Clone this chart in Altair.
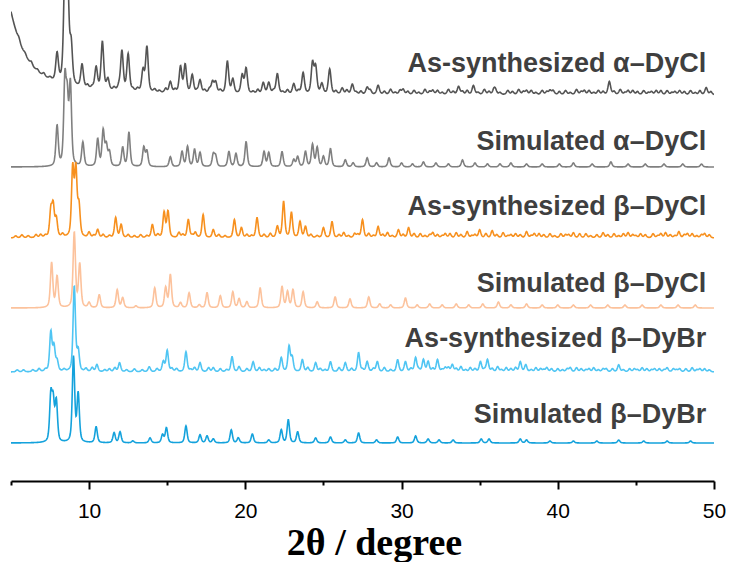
import numpy as np
import pandas as pd
import altair as alt

# ---- pattern names, colours and vertical stacking -------------------------
names = [
    "As-synthesized α–DyCl",
    "Simulated α–DyCl",
    "As-synthesized β–DyCl",
    "Simulated β–DyCl",
    "As-synthesized β–DyBr",
    "Simulated β–DyBr",
]
colors = ["#545454", "#808080", "#f7901e", "#fcc29c", "#4fc5f3", "#14a2dc"]
offsets = [386, 314, 243, 173, 109, 38]      # baseline of each stacked trace
label_y = [409, 331, 266, 189, 134, 58]      # text baseline of each label
label_x = 49.5

# ---- reflection lists: 2θ positions (deg) and relative intensities -------
a_syn_pos = [7.95, 8.45, 8.62, 8.85, 9.55, 10.45, 10.85, 11.2, 12.1, 12.5, 13.45, 13.7,
             15.2, 15.85, 16.15, 16.6, 17.1, 17.9, 18.1, 18.85, 19.2, 19.8, 20.05, 21.15,
             21.5, 22.05, 23.1, 23.7, 24.3, 24.5, 24.9, 25.4, 26.2, 26.85, 27.8, 28.5,
             29.3, 30.1, 30.8, 31.5, 32.3, 33.0, 33.65, 34.6, 35.3, 36.0, 36.8, 37.5,
             38.3, 39.0, 39.7, 40.5, 41.2, 42.0, 42.6, 43.3, 44.0, 44.8, 45.5, 46.3,
             47.0, 47.8, 48.5, 49.5]
a_syn_int = [28, 105, 100, 38, 23, 22, 48, 11, 40, 37, 21, 45,
             11, 26, 28, 18, 13, 11, 11, 32, 14, 18, 25, 11,
             11, 20, 10, 21, 30, 26, 10, 25, 6, 10, 7, 9,
             5, 5, 4, 5, 4, 5, 8, 9, 5, 5, 4, 5,
             4, 4, 4, 4, 5, 4, 4, 13, 5, 4, 4, 4,
             4, 4, 4, 7]
a_syn_background = (4.0, 1.2, 141)   # centre, half width, height of the low-angle rise
# counting-noise ripple of the measured α pattern
a_syn_ripple_pos = [5.5, 5.9, 6.3, 6.7, 7.1, 7.5, 9.9, 10.2, 11.6, 11.9, 12.8, 13.1,
                    14.2, 14.5, 14.9, 15.5, 16.9, 17.4, 17.7, 18.4, 20.5, 20.8, 21.8, 22.4,
                    22.7, 23.4, 25.8, 26.5, 27.1, 27.4, 28.0, 28.9, 29.6, 29.9, 30.4, 31.1,
                    31.8, 32.0, 32.6, 33.3, 33.9, 34.2, 34.9, 35.6, 35.9, 36.3, 37.1, 37.8,
                    38.0, 38.6, 39.3, 39.5, 40.1, 40.8, 41.5, 41.7, 42.3, 42.9, 43.6, 44.3,
                    44.5, 45.1, 45.8, 46.0, 46.6, 47.3, 47.5, 48.1, 48.8, 49.1, 49.8]
a_syn_ripple_int = [3, 2, 3, 2, 3, 2, 3, 2, 3, 4, 2, 3,
                    3, 2, 4, 3, 2, 3, 4, 3, 2, 4, 3, 2,
                    4, 3, 3, 4, 2, 3, 4, 3, 2, 4, 3, 2,
                    3, 4, 2, 3, 3, 4, 2, 3, 4, 2, 3, 3,
                    4, 2, 3, 4, 3, 2, 3, 4, 2, 3, 3, 2,
                    4, 3, 2, 3, 4, 2, 3, 3, 2, 4, 3]

a_sim_pos = [7.95, 8.45, 8.6, 8.8, 9.6, 10.55, 10.9, 11.1, 11.3, 12.15, 12.55, 13.5,
             13.7, 15.2, 15.95, 16.3, 16.75, 17.1, 17.95, 18.1, 18.95, 19.4, 20.05, 21.2,
             21.5, 22.35, 23.1, 23.35, 23.85, 24.3, 24.6, 25.0, 25.45, 26.4, 26.9, 27.8,
             28.4, 29.2, 30.0, 30.7, 31.4, 32.2, 33.0, 33.9, 34.7, 35.5, 36.3, 37.0,
             38.0, 39.0, 40.1, 41.0, 42.2, 43.4, 44.5, 45.6, 46.8, 48.0, 49.2]
a_sim_int = [40, 82, 60, 80, 24, 27, 35, 20, 14, 19, 34, 19,
             15, 10, 15, 20, 17, 14, 12, 10, 15, 13, 25, 15,
             14, 15, 7, 10, 15, 22, 19, 10, 18, 7, 4, 9,
             4, 9, 4, 3, 5, 4, 3, 7, 4, 3, 3, 4,
             3, 3, 3, 4, 3, 5, 3, 3, 3, 3, 3]

b_cl_syn_pos = [6.6, 7.55, 7.7, 7.9, 8.95, 9.15, 9.35, 10.0, 10.55, 11.7, 12.05, 14.05,
                14.8, 15.05, 15.75, 16.35, 16.8, 17.3, 17.95, 19.3, 19.75, 20.75, 22.05, 22.45,
                22.95, 23.5, 23.85, 25.0, 25.55, 26.3, 27.0, 27.5, 28.5, 29.1, 29.8, 30.45,
                31.2, 32.0, 32.8, 33.5, 34.2, 35.0, 35.8, 36.5, 37.3, 38.0, 38.8, 39.5,
                40.2, 41.0, 41.8, 42.9, 43.6, 44.5, 45.3, 46.1, 46.9, 47.75, 48.6, 49.4]
b_cl_syn_int = [3, 26, 30, 18, 68, 66, 30, 5, 8, 20, 13, 13,
                25, 26, 5, 18, 5, 23, 8, 18, 10, 20, 11, 36,
                25, 16, 11, 10, 16, 5, 4, 18, 11, 5, 8, 10,
                4, 5, 4, 5, 6, 8, 7, 5, 4, 6, 4, 4,
                4, 5, 4, 5, 4, 5, 4, 4, 5, 6, 4, 4]
b_cl_syn_ripple_pos = [5.3, 5.7, 6.1, 6.9, 7.2, 8.3, 10.3, 10.9, 11.3, 12.5, 12.9, 13.3,
                       13.7, 14.4, 16.0, 16.6, 18.3, 18.7, 20.1, 20.4, 21.2, 21.6, 24.2, 24.6,
                       26.0, 26.6, 27.2, 27.9, 28.2, 28.8, 29.4, 30.1, 30.8, 31.5, 31.8, 32.3,
                       32.6, 33.1, 33.8, 34.5, 34.7, 35.4, 36.1, 36.8, 37.0, 37.6, 38.3, 38.5,
                       39.1, 39.8, 40.5, 40.7, 41.4, 42.1, 42.5, 43.2, 43.9, 44.2, 44.8, 45.0,
                       45.6, 46.4, 46.6, 47.2, 47.5, 48.1, 48.3, 48.9, 49.2, 49.7]
b_cl_syn_ripple_int = [2, 3, 2, 3, 2, 3, 2, 3, 2, 3, 2, 3,
                       2, 3, 3, 2, 3, 2, 3, 2, 3, 4, 3, 2,
                       3, 2, 3, 4, 2, 3, 2, 3, 4, 2, 3, 3,
                       2, 4, 3, 2, 3, 4, 3, 2, 3, 3, 2, 4,
                       3, 2, 3, 3, 4, 2, 3, 3, 2, 4, 3, 2,
                       3, 2, 4, 3, 2, 3, 4, 2, 3, 3]

b_cl_sim_pos = [7.6, 7.95, 9.05, 9.4, 10.0, 10.65, 11.8, 12.15, 13.0, 14.2, 14.9, 15.2,
                15.85, 16.4, 17.05, 17.55, 18.4, 19.2, 19.6, 20.1, 20.95, 22.35, 22.7, 23.05,
                23.7, 24.6, 25.75, 26.7, 27.9, 28.6, 29.3, 30.25, 31.0, 31.8, 32.6, 33.5,
                34.3, 35.2, 36.2, 37.0, 38.0, 39.0, 40.0, 41.0, 42.1, 43.2, 44.3, 45.4,
                46.6, 47.7, 48.8]
b_cl_sim_int = [45, 31, 75, 43, 5, 13, 18, 10, 2, 20, 20, 33,
                5, 15, 3, 15, 12, 16, 9, 6, 20, 21, 16, 18,
                16, 6, 11, 9, 11, 4, 3, 10, 3, 4, 3, 4,
                3, 4, 6, 3, 4, 3, 3, 3, 3, 3, 3, 3,
                3, 3, 3]

b_br_syn_pos = [6.4, 7.55, 7.75, 7.95, 9.05, 9.3, 10.2, 10.5, 11.65, 11.95, 13.85, 14.35,
                14.75, 15.0, 15.6, 16.2, 16.75, 17.1, 17.65, 17.95, 19.15, 19.6, 20.5, 20.9,
                21.5, 22.3, 22.8, 23.0, 23.65, 24.0, 24.5, 25.45, 26.0, 26.4, 27.25, 27.8,
                28.45, 28.9, 29.75, 30.25, 30.9, 31.4, 31.7, 32.3, 32.8, 33.25, 33.8, 34.4,
                35.05, 35.5, 36.15, 36.7, 37.6, 37.95, 38.6, 39.3, 40.0, 40.8, 41.5, 42.3,
                43.1, 43.9, 44.6, 45.4, 46.2, 47.0, 47.8, 48.6, 49.4]
b_br_syn_int = [2, 39, 24, 10, 85, 20, 4, 7, 4, 9, 5, 3,
                10, 21, 3, 20, 4, 9, 4, 4, 15, 5, 10, 4,
                3, 14, 25, 14, 12, 4, 9, 10, 4, 9, 19, 10,
                10, 4, 12, 10, 14, 12, 10, 12, 4, 7, 5, 4,
                10, 12, 5, 4, 10, 7, 4, 4, 3, 4, 3, 4,
                3, 7, 3, 4, 3, 4, 3, 4, 3]
b_br_syn_ripple_pos = [5.4, 5.8, 6.8, 7.2, 8.4, 9.8, 11.0, 11.3, 12.4, 12.9, 13.4, 15.3,
                       16.5, 18.4, 18.8, 20.1, 21.2, 21.9, 24.8, 25.1, 26.8, 27.5, 28.2, 29.3,
                       30.6, 31.1, 32.0, 32.6, 33.0, 33.5, 34.1, 34.7, 35.3, 35.8, 36.4, 37.0,
                       37.3, 38.3, 38.9, 39.1, 39.6, 40.3, 40.6, 41.2, 41.8, 42.0, 42.6, 42.9,
                       43.5, 44.2, 44.9, 45.1, 45.7, 46.0, 46.5, 46.8, 47.4, 47.6, 48.2, 48.9,
                       49.1, 49.7]
b_br_syn_ripple_int = [2, 2, 3, 2, 2, 3, 2, 3, 2, 3, 2, 3,
                       2, 3, 2, 3, 2, 3, 3, 2, 3, 2, 3, 2,
                       3, 2, 3, 2, 4, 3, 2, 3, 2, 3, 2, 3,
                       4, 2, 3, 2, 3, 2, 3, 4, 2, 3, 2, 3,
                       3, 2, 3, 2, 3, 2, 3, 2, 3, 2, 3, 2,
                       3, 2]

b_br_sim_pos = [7.55, 7.7, 7.9, 9.0, 9.3, 10.45, 11.6, 11.98, 12.8, 13.9, 14.7, 14.95,
                16.2, 17.1, 17.55, 17.95, 19.1, 19.55, 20.45, 21.5, 22.3, 22.75, 23.35, 24.5,
                25.45, 26.4, 27.25, 28.4, 29.75, 30.9, 31.7, 32.4, 33.3, 35.1, 35.6, 37.6,
                38.0, 39.5, 41.0, 42.5, 43.9, 45.5, 47.0, 48.5]
b_br_sim_int = [45, 38, 40, 85, 48, 16, 10, 11, 2, 5, 8, 15,
                17, 8, 7, 4, 13, 5, 9, 3, 13, 23, 11, 5,
                6, 3, 10, 3, 6, 7, 4, 3, 3, 4, 4, 4,
                3, 2, 2, 2, 3, 2, 2, 2]

# (positions, intensities, half width) for each stacked trace
peak_lists = [
    [(a_syn_pos, a_syn_int, 0.10), (a_syn_ripple_pos, a_syn_ripple_int, 0.09)],
    [(a_sim_pos, a_sim_int, 0.09)],
    [(b_cl_syn_pos, b_cl_syn_int, 0.09), (b_cl_syn_ripple_pos, b_cl_syn_ripple_int, 0.09)],
    [(b_cl_sim_pos, b_cl_sim_int, 0.09)],
    [(b_br_syn_pos, b_br_syn_int, 0.09), (b_br_syn_ripple_pos, b_br_syn_ripple_int, 0.09)],
    [(b_br_sim_pos, b_br_sim_int, 0.09)],
]

# ---- build the powder profiles (pseudo-Voigt sum of reflections) ----------
two_theta = np.round(np.arange(5.0, 50.0001, 0.02), 3)


def profile(pos, inten, hw):
    x = two_theta[:, None]
    c = np.asarray(pos)[None, :]
    h = np.asarray(inten, dtype=float)[None, :]
    d = (x - c) / hw
    lor = 1.0 / (1.0 + d ** 2)
    gau = np.exp(-np.log(2) * d ** 2)
    return (h * (0.5 * lor + 0.5 * gau)).sum(axis=1)


frames = []
for i, parts in enumerate(peak_lists):
    y = np.full(two_theta.shape, float(offsets[i]))
    for pos, inten, hw in parts:
        y = y + profile(pos, inten, hw)
    if i == 0:
        c, w, h = a_syn_background
        y = y + h / (1.0 + ((two_theta - c) / w) ** 2)
    frames.append(pd.DataFrame({"two_theta": two_theta, "intensity": y, "pattern": names[i]}))
curves = pd.concat(frames, ignore_index=True)

labels = pd.DataFrame({"two_theta": [label_x] * len(names), "intensity": label_y, "label": names})

x_scale = alt.Scale(domain=[5, 50], nice=False, zero=False)
y_scale = alt.Scale(domain=[0, 481], nice=False, zero=False)

x_axis = alt.Axis(
    values=[5, 10, 15, 20, 25, 30, 35, 40, 45, 50],
    labelExpr="datum.value % 10 === 0 ? datum.label : ''",
    tickSize={"condition": {"test": "datum.value % 10 === 0", "value": 8}, "value": 4},
    tickWidth=2,
    tickColor="#000000",
    domainColor="#000000",
    domainWidth=2,
    grid=False,
    labelFont="Liberation Sans",
    labelFontSize=21,
    labelColor="#000000",
    labelPadding=11,
    labelFlush=False,
    title="2θ / degree",
    titleFont="Liberation Serif",
    titleFontSize=38,
    titleFontWeight="bold",
    titleColor="#000000",
    titlePadding=3,
    titleX=363,
)

lines = alt.Chart(curves).mark_line(strokeWidth=1.6, clip=True).encode(
    x=alt.X("two_theta:Q", scale=x_scale, axis=x_axis),
    y=alt.Y("intensity:Q", scale=y_scale, axis=None),
    color=alt.Color("pattern:N", scale=alt.Scale(domain=names, range=colors), legend=None),
)

texts = alt.Chart(labels).mark_text(
    align="right",
    baseline="alphabetic",
    font="Liberation Sans",
    fontWeight="bold",
    fontSize=27,
    color="#3f3f3f",
).encode(
    x=alt.X("two_theta:Q", scale=x_scale),
    y=alt.Y("intensity:Q", scale=y_scale),
    text="label:N",
)

chart = (
    alt.layer(lines, texts)
    .properties(
        width=703,
        height=481,
        autosize="none",
        padding={"left": 11, "top": 0, "right": 18, "bottom": 81},
        background="#ffffff",
    )
    .configure_view(stroke=None)
)

chart.save("out.html", embed_options={"renderer": "svg", "actions": False})
